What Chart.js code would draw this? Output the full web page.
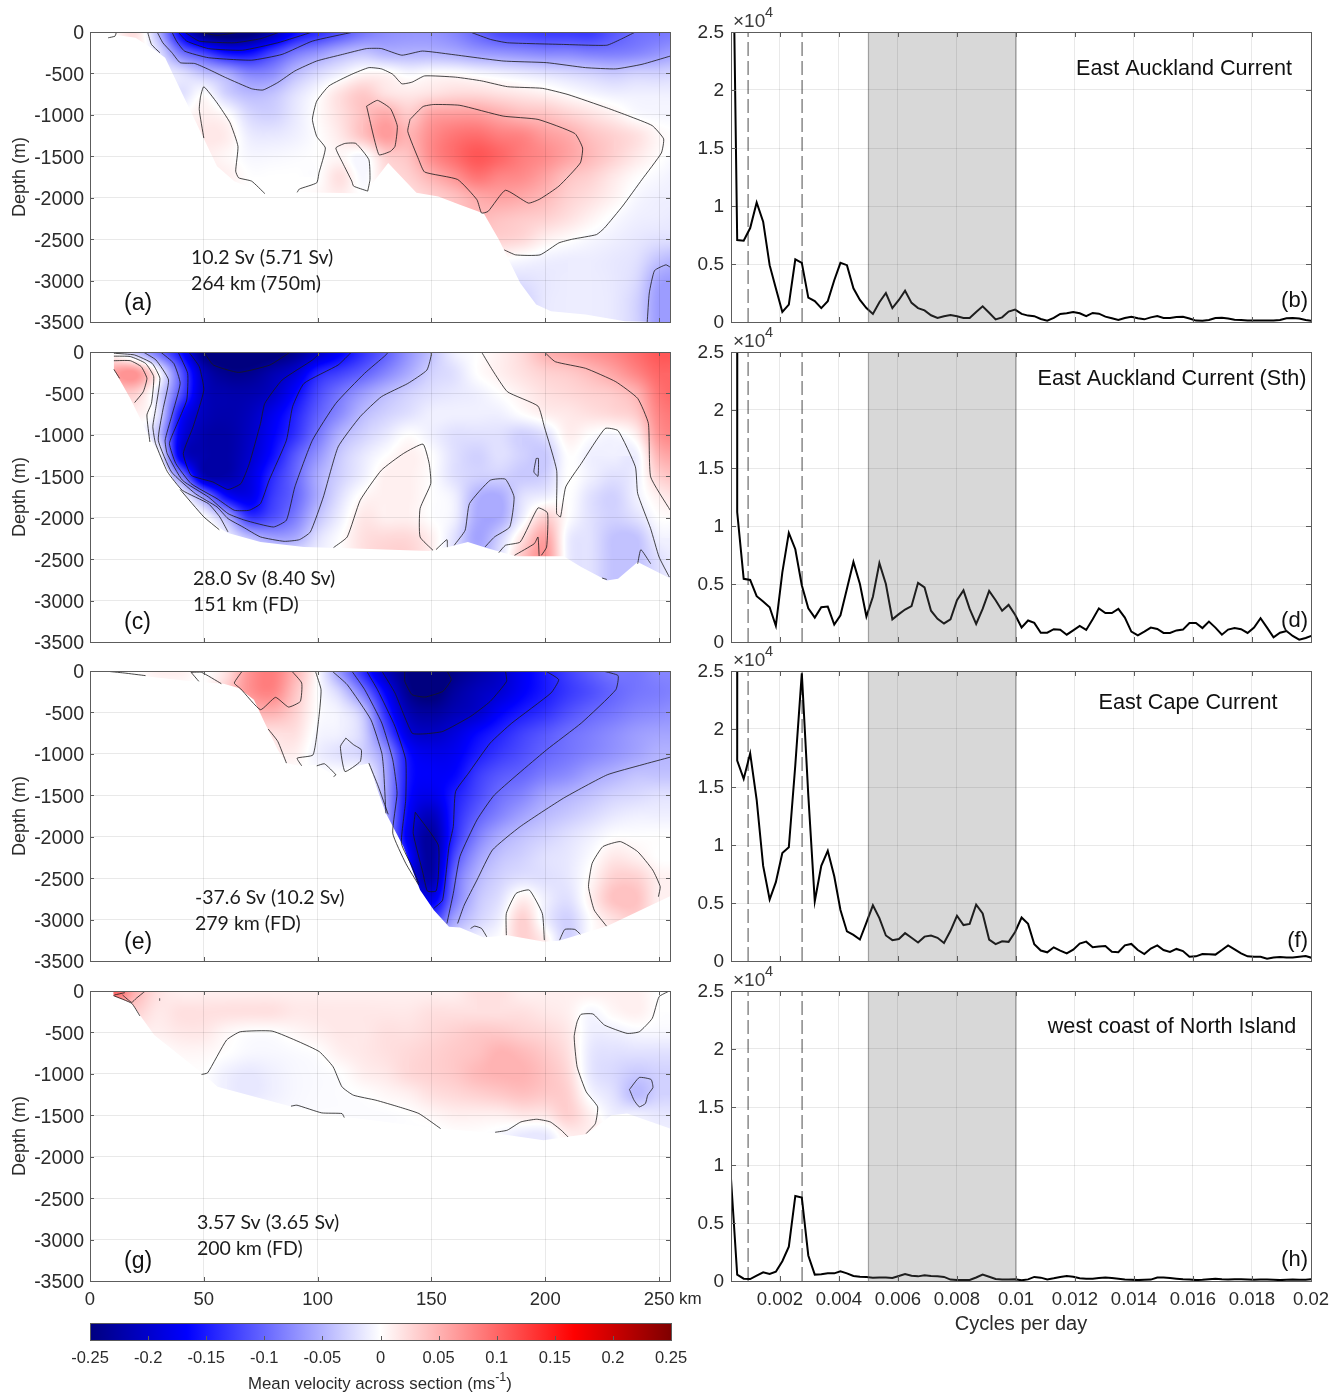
<!DOCTYPE html>
<html><head><meta charset="utf-8">
<script src="https://cdn.jsdelivr.net/npm/chart.js@4"></script>
<style>html,body{margin:0;padding:0;background:#fff;width:1340px;height:1392px;overflow:hidden}canvas{position:absolute}</style>
</head><body>
<script>
// ---------- axis ticks ----------
const depthTicks=[0,-500,-1000,-1500,-2000,-2500,-3000,-3500];
const distTicks=[0,50,100,150,200,250];
const freqTicks=[0.002,0.004,0.006,0.008,0.01,0.012,0.014,0.016,0.018,0.02];
const powerTicks=[0,0.5,1,1.5,2,2.5];
const cbarTicks=[-0.25,-0.2,-0.15,-0.1,-0.05,0,0.05,0.1,0.15,0.2,0.25];
const cmapValues=[-0.25,-0.1667,0,0.1667,0.25];
const cmapColors=[[0,0,127],[0,0,255],[255,255,255],[255,0,0],[127,0,0]];
const fieldX=[0,10,20,30,40,50,60,70,80,90,100,110,120,130,140,150,160,170,180,190,200,210,220,230,240,250,260];
const fieldZ=[0,-250,-500,-750,-1000,-1250,-1500,-1750,-2000,-2250,-2500,-2750,-3000,-3250,-3500];
// ---------- velocity sections, cm/s on the fieldX / fieldZ grid ----------
const fieldA=[
[0,0,2,-5,-17,-25.5,-27,-26,-22,-16.5,-14,-11.5,-9,-7.5,-7,-7,-8,-10,-12,-12.5,-13,-13,-13,-11,-9.5,-9,-8.5],
[0,0,1,-2,-9,-12.5,-16,-16,-12.5,-9,-7,-5,-4,-5,-5,-5,-5.5,-6.5,-7,-7.5,-8,-8,-8.5,-8.5,-8,-7,-6],
[0,0,0,-1,-2,-4,-5.5,-8,-7.5,-4.5,-2.5,-1,0.5,0.5,-0.5,0,0,-0.5,-1,-1.5,-2,-2.5,-3,-3.5,-3,-3,-2.5],
[0,0,0,0,-2,0,-3,-4.5,-4,-2,-0.2,2,3.5,2,1.5,2,2.5,2.5,2,1.5,1,0.2,-0.5,-1,-1,-1,-1],
[0,0,0,0,0,1,0.2,-2.5,-3,-1.5,0.2,2,4,5.5,3.5,6,6.5,6.5,5.5,4.5,4,3,2,1,-0.2,-0.5,-0.5],
[0,0,0,0,0,1.5,1.2,-1.2,-1.5,-1,0,1.5,4,6.5,5,7.5,9,9.5,8.5,8,6.5,5.5,4,3,2,0.5,0],
[0,0,0,0,0,1,0.5,-0.5,-0.5,-0.3,0,0.5,-0.5,3,4,7.5,9.5,11,10,8.5,7.5,6,4.5,3,1.5,0.2,-0.5],
[0,0,0,0,0,1,1,0,0,0,0,2,-0.5,2,3,5,7,9,8,7.5,6,4,3,1.5,0.2,-0.5,-1],
[0,0,0,0,0,0,0,0,0,0,0.5,1,0,1,2,3,4,5.5,6,5.5,4.5,3,2,0.8,-0.5,-1,-1],
[0,0,0,0,0,0,0,0,0,0,0,0,0,0,2,3,4,4.5,4,3.5,3,2,0.8,-0.3,-1,-1.2,-1.5],
[0,0,0,0,0,0,0,0,0,0,0,0,0,0,0,0,2,3,3,2.5,1,0.2,-0.5,-1,-1.5,-2,-2],
[0,0,0,0,0,0,0,0,0,0,0,0,0,0,0,0,0,0,0,-0.5,-1,-1.2,-1.2,-1.5,-2,-4,-5],
[0,0,0,0,0,0,0,0,0,0,0,0,0,0,0,0,0,0,-2,-2,-1.5,-1.2,-1.2,-1.5,-2.5,-6,-6.5],
[0,0,0,0,0,0,0,0,0,0,0,0,0,0,0,0,0,0,-3,-3,-1.5,-1.2,-1.2,-1.5,-3,-6.5,-6.5],
[0,0,0,0,0,0,0,0,0,0,0,0,0,0,0,0,0,0,-3,-3,-1.5,-1.2,-1.2,-1.5,-3,-6.5,-6.5]];
const fieldC=[
[0,0,-4,-9.5,-16,-25,-27,-27,-26,-24,-20.5,-17,-13.5,-10.5,-7,-4,-1,0,1,2.5,5,6,7,8,9.5,11,11],
[3,6,7,0,-11,-21,-24,-24,-22,-19.5,-14.5,-12.5,-10.5,-8,-5.5,-3,-2,0,1,2,3,3.5,4.5,6,8,10,10],
[2,3,3,-2,-11.5,-20.5,-22,-22,-20.5,-16.5,-12,-9,-6.5,-4.5,-3,-2,-1.5,-1,0,1,2,2.5,3,3.5,5,9,10],
[0,0,1,-2,-16,-21,-22,-21,-18,-14.5,-10.5,-7.5,-4.5,-3,-2,-1,-1,-1,-1,0,1,1.5,2,2.5,3.5,8,9],
[0,0,0,-4,-18,-22,-22.5,-20.5,-17,-13.5,-9,-5,-3,-1.5,0,-1,-2,-2,-2,-3,-2,1,0,-0.5,1,7,8],
[0,0,0,0,-18.5,-22,-22.5,-20,-16,-11,-7,-3.5,-1.5,0,1,0,-2,-3,-2,-3,-3.5,0,-1,-1,-1,5,6],
[0,0,0,0,-8,-21,-22,-19,-14,-10,-5.5,-3,-1,1,1,0,-2,-3,-3,-3.5,-3,0,-1,-2,-1,3,4],
[0,0,0,0,0,-7,-16,-18,-13,-10,-5.5,-2,0.5,1,1,0,-1,-5,-5.5,-2,-1,0,-2,-3,-1,1,2],
[0,0,0,0,0,0,-5,-13,-11.5,-8.5,-4,-1,1.5,1,1,0,-1,-5.5,-5.5,-1,3,0,-2,-3,-2,0,0],
[0,0,0,0,0,0,-1,-4,-6,-5.5,-2,0,2,2.5,2.5,1,-2,-6,-3,2,6,-1,-2,-4,-4,-1,-1],
[0,0,0,0,0,0,0,-1,-1,-1,-1,0,2,3,3,1,-2,-5,-2,4,7,-1,-2,-4,-4,-2,-1],
[0,0,0,0,0,0,0,-1,-1,-1,-1,0,2,3,3,1,-2,-5,-2,4,7,-1,-2,-4,-4,-2,-1],
[0,0,0,0,0,0,0,-1,-1,-1,-1,0,2,3,3,1,-2,-5,-2,4,7,-1,-2,-4,-4,-2,-1],
[0,0,0,0,0,0,0,-1,-1,-1,-1,0,2,3,3,1,-2,-5,-2,4,7,-1,-2,-4,-4,-2,-1],
[0,0,0,0,0,0,0,-1,-1,-1,-1,0,2,3,3,1,-2,-5,-2,4,7,-1,-2,-4,-4,-2,-1]];
const fieldE=[
[0,0,0,1,1,0,2,7,8.5,5,0,-7,-14,-21,-25,-27,-24.5,-22.5,-20.5,-17.5,-15,-12.5,-10.5,-9,-9,-8,-8],
[0,0,0,0,0,0,3,7,8,4,0,-3,-9,-17,-24,-26,-23,-21,-19.5,-17,-15,-13,-11.5,-10,-9,-8.5,-8],
[0,0,0,0,0,0,0,4,5,3,0,-1,-4,-14,-21.5,-23,-21.5,-20,-17,-15,-13.5,-11.5,-10,-9,-8,-7.5,-7],
[0,0,0,0,0,0,0,2,2,2,-0.5,-1,-3,-11,-19,-20.5,-19,-16.5,-14.5,-12.5,-11,-9.5,-8.5,-7.5,-6.5,-6,-6],
[0,0,0,0,0,0,0,0,1,1,-1,-2,-3,-7,-16,-18,-17.5,-15,-13,-11.5,-10,-9,-8,-7,-6,-5,-5],
[0,0,0,0,0,0,0,0,0,0,0,0,0,-6,-15.5,-17,-16.5,-13,-11,-10,-8.5,-7.5,-6,-5,-4,-4,-4],
[0,0,0,0,0,0,0,0,0,0,0,0,0,-6,-16,-18,-15,-12,-9.5,-8,-6,-5,-4,-3,-2.5,-2,-2],
[0,0,0,0,0,0,0,0,0,0,0,0,0,-6,-17,-21,-14.5,-10.5,-8,-6,-4.5,-3.5,-2.5,-1.5,-1,-1,-1],
[0,0,0,0,0,0,0,0,0,0,0,0,0,-6,-18,-23,-14,-8.5,-5.5,-4,-3,-2,-1,0,0,0,0],
[0,0,0,0,0,0,0,0,0,0,0,0,0,0,-16,-23,-12,-6.5,-4,-3,-2,-1.5,-0.2,1.5,1,0,0],
[0,0,0,0,0,0,0,0,0,0,0,0,0,0,-16,-22,-10,-5,-3,-2,-2,-1.5,0.5,3,3,1,1],
[0,0,0,0,0,0,0,0,0,0,0,0,0,0,-12,-18,-9,-4,-2,1,-1,-2,1,4,4,1,1],
[0,0,0,0,0,0,0,0,0,0,0,0,0,0,0,-12,-6,-3,-1,3,-1,-3,0,2,3,1,1],
[0,0,0,0,0,0,0,0,0,0,0,0,0,0,0,-5,-3,-1,0,3,1,-3,0,1,2,1,1],
[0,0,0,0,0,0,0,0,0,0,0,0,0,0,0,-5,-3,-1,0,3,1,-3,0,1,2,1,1]];
const fieldG=[
[0,10,5,2,1,1,1,1,1,1,1,1,1,1,1,1,1,2,2,1,1,1,1,1,1,0,0],
[0,3,3,1.5,2,2,2,2,2,1.5,1.5,1.5,1.5,1.5,1.5,2,2,2,2,2,1.5,1,-0.5,0.5,1,0,0],
[0,0,1,1,1.5,1.5,0.5,0,0,0.5,1,1.5,1.5,2,2,2.5,3,3.5,3.5,3,2.5,1.5,-1,-1,-0.5,-0.5,-0.5],
[0,0,0,0,0.5,0.5,0,-0.5,-0.5,-0.3,0,1,1.5,2,2.5,3,3.5,4,5,4.5,3.5,2,-1.5,-2,-2,-2,-2],
[0,0,0,0,0,0,-1,-1.5,-1,-0.5,-0.3,0,1,1.5,2.5,3,3.5,4.5,5,5,4,2.5,-1.5,-2.5,-3.5,-3,-3],
[0,0,0,0,0,0,-1,-1.5,-1,-0.5,-0.3,-0.2,0,0.5,1,2,2.5,3,3.5,4,3.5,3,-0.5,-2,-4.5,-3,-3],
[0,0,0,0,0,0,0,0,-0.3,-0.3,-0.2,-0.2,-0.2,-0.2,0,0.5,1,1,1,1.5,1.5,3,1,-1,-1,-1.5,-1.5],
[0,0,0,0,0,0,0,0,0,0,0,0,0,0,0,-0.3,0,0,-0.5,-1.5,-1.5,1,1,0,-1,-1,-1],
[0,0,0,0,0,0,0,0,0,0,0,0,0,0,0,-0.3,0,0,-0.5,-1.5,-1.5,1,1,0,-1,-1,-1],
[0,0,0,0,0,0,0,0,0,0,0,0,0,0,0,-0.3,0,0,-0.5,-1.5,-1.5,1,1,0,-1,-1,-1],
[0,0,0,0,0,0,0,0,0,0,0,0,0,0,0,-0.3,0,0,-0.5,-1.5,-1.5,1,1,0,-1,-1,-1],
[0,0,0,0,0,0,0,0,0,0,0,0,0,0,0,-0.3,0,0,-0.5,-1.5,-1.5,1,1,0,-1,-1,-1],
[0,0,0,0,0,0,0,0,0,0,0,0,0,0,0,-0.3,0,0,-0.5,-1.5,-1.5,1,1,0,-1,-1,-1],
[0,0,0,0,0,0,0,0,0,0,0,0,0,0,0,-0.3,0,0,-0.5,-1.5,-1.5,1,1,0,-1,-1,-1],
[0,0,0,0,0,0,0,0,0,0,0,0,0,0,0,-0.3,0,0,-0.5,-1.5,-1.5,1,1,0,-1,-1,-1]];
// ---------- sea-floor outlines: distance, depth, distance, depth ... ----------
const bedA=[5,0,10,-30,20,-70,29,-230,33,-310,48,-1175,55.8,-1620,63.4,-1800,76.8,-1950,94,-1935,120.6,-1950,131,-1580,143.4,-1940,153,-1985,162.5,-2085,173,-2190,179.6,-2505,189,-3030,196,-3290,202.5,-3370,217.7,-3410,235,-3490,260,-3510];
const bedC=[10.5,0,10.5,-210,17.7,-560,25.3,-983,36.8,-1547,50,-2010,60.6,-2184,74.9,-2293,94,-2354,113,-2370,149,-2402,158.7,-2345,166,-2293,173.9,-2362,187,-2466,208,-2466,215.8,-2595,227,-2757,232,-2736,240.6,-2535,254.5,-2728,260,-2800];
const bedE=[0,0,25.3,-65,44.3,-125,58.7,-153,65.3,-205,72,-346,76.8,-628,82.5,-950,86.3,-1112,92,-1145,99.6,-1133,108,-1274,113,-1213,117.7,-1145,122.5,-1112,126.3,-1435,130,-1717,137.7,-2120,145,-2644,151,-2885,157.7,-3087,162.5,-3095,173,-3216,183.4,-3188,199.6,-3268,206,-3256,227,-3080,254.9,-2716,260,-2680];
const bedG=[10.3,0,10.3,-56,18.3,-149,21.9,-290,28.2,-532,50,-1008,56,-1157,87.9,-1390,111.7,-1519,152.5,-1660,177.3,-1713,199.2,-1801,209,-1761,218,-1729,229,-1499,236,-1479,254.9,-1660,260,-1680];
// ---------- contour lines: distance, depth, distance, depth ... ----------
const contoursA=[
[29.5,0,32,-130,36,-250,39.6,-370,46,-380,52,-450,59.6,-550,71,-685,76,-700,82.5,-610,90,-470,99.6,-350,111,-270,121.5,-200,128,-200,137,-280,146,-230,158.7,-270,181.5,-350,200.6,-370,217.7,-430,231,-445,242.5,-390,255,-290],
[36,0,38,-110,41.5,-230,52,-310,71,-340,84.4,-270,97.7,-110,115.8,0],
[38.7,0,42.5,-110,52,-200,67,-220,82.5,-130,97.7,0],
[41.5,0,48,-110,63.4,-130,75,-80,83.4,0],
[48,0,55.8,-40,66.3,0],
[167,0,176,-90,183.4,-130,208,-150,227,-160,233,-90,239.6,0],
[25.3,0,27,-150,30.7,-250],
[11.6,0,11,-50,8,-70],
[182,-2630,187,-2690,197.7,-2690,206,-2545,212,-2500,222.5,-2445,226,-2365,234,-2100,242.5,-1780,251,-1460,252,-1290,247,-1130,236.8,-1015,227,-915,210,-755,198.7,-680,183.4,-660,172,-590,160.6,-545,147,-530,141.5,-605,137,-625,133,-510,128,-445,122.5,-430,115,-510,105,-650,99.6,-835,97.7,-1055,99.6,-1260,103.4,-1400,100.6,-1700,99.6,-1820,92,-1895,91,-1935],
[122,-1920,123,-1780,122.5,-1540,116.8,-1345,112,-1345,108,-1400,111,-1580,115,-1800,115.8,-1860,122,-1920],
[121.5,-895,126.3,-825,132,-925,135,-1135,134,-1380,132,-1440,126.9,-1480,121.5,-895],
[140.6,-1055,146.3,-900,151,-875,162.5,-885,181.5,-1015,196.8,-1055,213,-1225,216.4,-1400,215.4,-1580,206,-1860,197.7,-2015,192.6,-2065,182.5,-1910,174.9,-2165,172,-2185,170,-2025,161.5,-1780,147,-1690,144.4,-1540,139.6,-1200,140.6,-1055],
[50,-1280,48,-935,48.6,-775,50,-660,55.8,-855,61.5,-1095,65,-1380,64,-1680,65.3,-1760,71,-1800,76.8,-1950],
[244.8,-3500,245.7,-3150,248,-2880,253,-2810,255,-2840]];
const contoursC=[
[19.6,-610,23.4,-480,25,-318,22.5,-177,17.7,-105,10.5,-105],
[10.5,-210,13,-318],
[10.5,-50,17.7,-55,24.4,-137,28,-298,27,-620,25,-760,26.3,-1085],
[10.5,-15,19.6,-36,27.3,-137,30.7,-318,29,-660,27.6,-900,28.8,-1105,34,-1445,40.6,-1670,52,-1830,57,-1990,60.6,-2170],
[39.6,-1660,50,-1990,56.8,-2145],
[23.4,0,29,-97,34.5,-338,32,-701,30,-1065,35.8,-1447,46.3,-1710,55.8,-1870,60.6,-2010,67.2,-2112,74.9,-2232,85.3,-2285,92,-2265,96.8,-2172,102.5,-1750,109,-1145,118.7,-780,128,-540,139.6,-380,148,-218,150,-15,148,0],
[31,0,36.8,-137,39.6,-379,35.8,-782,33,-1065,33.9,-1225,40.6,-1548,52,-1750,60.6,-1950,68,-2030,80.6,-2112,86.3,-2030,90,-1628,97.7,-1065,108,-620,120.6,-258,130,-36,131,0],
[38.7,0,42.9,-258,42.5,-580,37.7,-903,34.9,-1105,37.7,-1346,44.4,-1588,55.8,-1770,63.4,-1910,70,-1910,74.9,-1830,78.7,-1548,86.3,-1065,89,-660,94,-379,109,-157,114.9,0],
[43.4,0,48,-177,50,-460,45.3,-903,41,-1225,44.4,-1487,53.9,-1568,60.6,-1660,66.3,-1588,70,-1346,74.9,-862,76.8,-620,84.4,-338,97.7,-97,101.5,0],
[50,0,54.2,-157,65.3,-246,79,-157,88,0],
[107,-2360,113,-2232,118.7,-1790,128,-1427,137.7,-1225,146.3,-1112,149,-1346,149.7,-1588,145,-1890,145,-2232,150.7,-2394],
[152,-2385,156.8,-2265,157,-2355],
[160,-2333,164.8,-2152,166.7,-1830,175.8,-1548,182.5,-1535,186.3,-1750,184.4,-2112,177.7,-2232,173.5,-2354],
[196,-1285,197,-1285,196.8,-1500,195,-1447,196,-1285],
[179.6,-2422,182.5,-2333,189,-2293,196.8,-1882,201,-1942,200.6,-2354,198.3,-2454],
[186.5,-2454,195.2,-2313,196.8,-2233,197.3,-2462],
[172,0,176.8,-218,183.4,-480,196.8,-653,199.6,-903,205,-1427,205,-1950,206.7,-1990,209,-1628,215.8,-1346,226.3,-923,232,-950,239.6,-1386,240.6,-1708,246.3,-2132,250,-2474,254.5,-2716],
[199.6,0,204.4,-117,217.7,-197,231,-359,240.6,-560,245.3,-862,246.3,-1507,254.9,-1910],
[240.6,-2555,242,-2386,246.3,-2555],
[225,-2728,227,-2745]];
const contoursE=[
[6.3,0,15,-24,24.4,-56],
[44.4,-16,49,-16,57.7,-153],
[44.4,-16,47.8,-125],
[66.9,0,63.4,-145,66.3,-218,74.9,-467,81.5,-318,87.2,-435,92.4,-367,93,-145,88.6,0],
[99,0,101.5,-226,100.6,-548,98,-1012,91,-1052,93,-1145],
[78.3,-701,82.5,-850,86.3,-1112],
[99.6,-1145,103,-1120,108,-1253,107,-1274],
[112.4,-810,110,-911,112,-1213,118.7,-1092,119.2,-951,115.8,-890,112.4,-810],
[106.3,0,113,-165,123.4,-588,128.2,-991,129,-1193,130,-1717],
[122.5,-1112,126.6,-1390,131,-1730],
[115,0,120.7,-226,128.2,-629,133,-1072,134.9,-1475,133,-1958,138.7,-2321,144.4,-2583],
[121.5,0,126.3,-226,134,-669,138.7,-1072,138.7,-1556,136.8,-2080,141.5,-2362,144.4,-2563],
[128.2,0,134,-266,141.5,-750,147.2,-758,155,-729,167.2,-548,175.8,-367,183,-125,182.5,0],
[142.9,-1705,142,-1958,146.3,-2442,148.2,-2656,152,-2656,153,-2483,153,-2100,142.9,-1705],
[138.3,0,138.3,-125,141.5,-286,147.2,-314,155,-246,158.7,-105,156.8,0],
[200.2,0,205.9,-105,202.5,-266,185.3,-629,175.8,-870,166.3,-1233,160.6,-1455,159.6,-1878,157.7,-2120,154.9,-2765,151,-2865],
[225.3,0,232,-56,231,-226,215.8,-629,200.6,-951,177.7,-1495,170,-1797,162.5,-2240,159.6,-2684,156.8,-3047],
[254.9,-1040,242.5,-1132,227.2,-1253,208,-1535,189,-1878,176.8,-2160,170,-2523,164.4,-2825,161.5,-3047],
[226.9,-3079,221.5,-2885,219,-2603,220.6,-2321,225.3,-2120,233,-2059,240.6,-2180,247.2,-2402,250.5,-2603,249.7,-2724],
[182.9,-3188,182.9,-2926,187.2,-2684,193,-2644,198.7,-2926,199.6,-3248],
[167.2,-3107,169,-3079,172,-3107,174.3,-3208],
[206.3,-3248,208.6,-3119,213,-3119,215.4,-3176]];
const contoursG=[
[49,-1008,51.7,-987,60,-592,66,-492,80,-484,91.8,-613,100.8,-733,106.8,-915,110.7,-1157,115.7,-1257,125.6,-1318,135.6,-1398,144.5,-1479,154,-1660],
[88.3,-1390,90.9,-1378,101.8,-1471,110.7,-1479,111.7,-1527],
[178,-1705,183.3,-1680,189.3,-1580,196.2,-1548,202.2,-1580,207,-1680,210,-1761],
[218,-1720,222,-1600,223,-1398,218,-1217,214,-915,212.7,-552,214,-371,215.7,-282,221,-278,226,-411,236,-512,241.3,-492,247,-330,250,-69,254.5,0],
[237,-1189,241.3,-1044,246.5,-1068,247.3,-1165,245,-1257,244,-1358,241.3,-1398,239,-1318,237,-1189],
[14.3,-48,18.3,-137,20.3,-89,24.3,0],
[10.7,-48,15.3,-20],
[30.6,-89,30.6,-117],
[10.3,-56,18.3,-149,21.9,-300]];
// ---------- spectra ----------
const spectrumFreq=[.00055,.00077,.00099,.00121,.00143,.00165,.00186,.00208,.00230,.00252,.00274,.00296,.00318,.00340,.00362,.00384,.00405,.00427,.00449,.00471,.00493,.00515,.00537,.00559,.00581,.00603,.00624,.00646,.00668,.00690,.00712,.00734,.00756,.00778,.00800,.00822,.00843,.00865,.00887,.00909,.00931,.00953,.00975,.00997,.01019,.01041,.01062,.01084,.01106,.01128,.01150,.01172,.01194,.01216,.01238,.01260,.01281,.01303,.01325,.01347,.01369,.01391,.01413,.01435,.01457,.01479,.01500,.01522,.01544,.01566,.01588,.01610,.01632,.01654,.01676,.01698,.01719,.01741,.01763,.01785,.01807,.01829,.01851,.01873,.01895,.01917,.01938,.01960,.01982,.02004];
const seriesB=[.706,.70,.81,1.03,.865,.49,.29,.087,.15,.54,.51,.21,.18,.12,.18,.36,.51,.49,.29,.19,.12,.07,.17,.25,.12,.19,.27,.165,.12,.10,.058,.035,.05,.06,.05,.035,.035,.087,.135,.08,.023,.04,.09,.107,.07,.055,.05,.026,.012,.035,.07,.075,.087,.075,.05,.078,.072,.046,.032,.017,.035,.046,.032,.023,.04,.052,.035,.035,.043,.046,.03,.012,.01,.017,.035,.037,.03,.02,.017,.012,.012,.012,.012,.012,.017,.032,.035,.03,.017,.01];
const seriesD=[1.12,.545,.535,.395,.35,.30,.14,.60,.94,.80,.49,.29,.21,.30,.305,.15,.23,.46,.69,.50,.22,.39,.68,.50,.195,.24,.28,.31,.51,.47,.27,.20,.16,.195,.36,.445,.285,.155,.285,.44,.36,.27,.32,.235,.125,.185,.165,.08,.08,.11,.105,.063,.10,.138,.104,.196,.29,.25,.25,.285,.21,.09,.058,.09,.124,.112,.078,.078,.10,.107,.164,.164,.12,.176,.124,.063,.107,.12,.11,.078,.124,.205,.124,.04,.08,.095,.052,.02,.035,.055];
const seriesF=[1.727,1.57,1.79,1.39,.82,.53,.68,.93,.98,1.69,2.48,1.43,.515,.82,.95,.73,.44,.255,.225,.185,.33,.48,.37,.22,.18,.19,.24,.20,.16,.21,.22,.20,.155,.26,.39,.31,.32,.485,.41,.185,.145,.17,.165,.25,.375,.32,.145,.09,.075,.118,.09,.065,.098,.15,.167,.118,.124,.13,.08,.075,.135,.147,.095,.06,.107,.135,.095,.078,.104,.086,.037,.04,.06,.058,.055,.095,.135,.10,.066,.04,.037,.037,.02,.03,.035,.03,.03,.037,.043,.026];
const seriesH=[.055,.02,.017,.046,.075,.06,.08,.17,.296,.733,.72,.22,.055,.058,.066,.066,.083,.066,.043,.037,.035,.029,.03,.03,.026,.043,.06,.046,.04,.05,.043,.04,.035,.012,.009,.009,.009,.03,.055,.037,.017,.012,.012,.014,.006,.014,.035,.029,.014,.023,.035,.043,.037,.023,.02,.02,.025,.03,.025,.02,.013,.01,.008,.01,.012,.03,.03,.025,.02,.015,.012,.008,.01,.015,.02,.015,.012,.015,.015,.012,.01,.012,.012,.01,.008,.01,.012,.01,.01,.015];
const leadB=[.00033,4.8], leadD=[.00056,6], leadF=[.00056,6], leadH=[.00033,.92];
const periodLines=[0.00092,0.00275];
const bandFreq=[0.005,0.01];
// ---------- text ----------
const sectionPanels=[
 {top:32,field:fieldA,bed:bedA,contours:contoursA,tag:'(a)',notes:['10.2 Sv (5.71 Sv)','264 km (750m)'],nx:191,ny:226,ty:272},
 {top:352,field:fieldC,bed:bedC,contours:contoursC,tag:'(c)',notes:['28.0 Sv (8.40 Sv)','151 km (FD)'],nx:193,ny:227,ty:271},
 {top:671,field:fieldE,bed:bedE,contours:contoursE,tag:'(e)',notes:['-37.6 Sv (10.2 Sv)','279 km (FD)'],nx:195,ny:227,ty:272},
 {top:991,field:fieldG,bed:bedG,contours:contoursG,tag:'(g)',notes:['3.57 Sv (3.65 Sv)','200 km (FD)'],nx:197,ny:232,ty:271,last:true}];
const spectrumPanels=[
 {top:32,series:seriesB,lead:leadB,title:'East Auckland Current',tx:1184,ty:37,tag:'(b)',gy:269},
 {top:352,series:seriesD,lead:leadD,title:'East Auckland Current (Sth)',tx:1172,ty:27,tag:'(d)',gy:269},
 {top:671,series:seriesF,lead:leadF,title:'East Cape Current',tx:1188,ty:32,tag:'(f)',gy:270},
 {top:991,series:seriesH,lead:leadH,title:'west coast of North Island',tx:1172,ty:36,tag:'(h)',gy:269,last:true}];

const SANS='"Liberation Sans",Arial,sans-serif', INK='#2b2b2b', FRAME='#5c5c5c', GRID='rgba(0,0,0,0.085)';
Chart.defaults.font.family=SANS;

function pairs(flat){const o=[];for(let i=0;i<flat.length;i+=2)o.push({x:flat[i],y:flat[i+1]});return o;}
function cmap(v){
  const c=Math.max(cmapValues[0],Math.min(cmapValues[4],v));let i=0;
  while(i<3&&c>cmapValues[i+1])i++;
  const t=(c-cmapValues[i])/(cmapValues[i+1]-cmapValues[i]),a=cmapColors[i],b=cmapColors[i+1];
  return [a[0]+(b[0]-a[0])*t,a[1]+(b[1]-a[1])*t,a[2]+(b[2]-a[2])*t];
}
function cr(t){const t2=t*t,t3=t2*t;return [-.5*t+t2-.5*t3,1-2.5*t2+1.5*t3,.5*t+2*t2-1.5*t3,-.5*t2+.5*t3];}
function sample(F,u,v){
  const R=F.length,C=F[0].length,i=Math.min(C-2,Math.max(0,Math.floor(u))),j=Math.min(R-2,Math.max(0,Math.floor(v)));
  const wx=cr(u-i),wy=cr(v-j);let s=0;
  for(let b=0;b<4;b++){const row=F[Math.min(R-1,Math.max(0,j-1+b))];
    for(let a=0;a<4;a++)s+=wy[b]*wx[a]*row[Math.min(C-1,Math.max(0,i-1+a))];}
  const q=[F[j][i],F[j][i+1],F[j+1][i],F[j+1][i+1]];
  return Math.max(Math.min(...q),Math.min(Math.max(...q),s));
}
function frame(chart,len){
  const c=chart.ctx,a=chart.chartArea,x=chart.scales.x,y=chart.scales.y;
  c.save();c.strokeStyle=FRAME;c.lineWidth=1;
  c.strokeRect(Math.round(a.left)+.5,Math.round(a.top)+.5,Math.round(a.width),Math.round(a.height));
  c.beginPath();
  x.ticks.forEach(t=>{const p=Math.round(x.getPixelForValue(t.value))+.5;c.moveTo(p,a.bottom);c.lineTo(p,a.bottom-len);c.moveTo(p,a.top);c.lineTo(p,a.top+len);});
  y.ticks.forEach(t=>{const p=Math.round(y.getPixelForValue(t.value))+.5;c.moveTo(a.left,p);c.lineTo(a.left+len,p);c.moveTo(a.right,p);c.lineTo(a.right-len,p);});
  c.stroke();c.restore();
}
function text(c,s,x,y,font,align,color){c.font=font;c.textAlign=align||'left';c.textBaseline='middle';c.fillStyle=color||INK;c.fillText(s,x,y);}
function addCanvas(l,t,w,h){const e=document.createElement('canvas');e.width=w;e.height=h;e.style.left=l+'px';e.style.top=t+'px';e.style.width=w+'px';e.style.height=h+'px';document.body.appendChild(e);return e;}

sectionPanels.forEach(p=>{
  const MT=30,H=MT+290+30;
  const el=addCanvas(0,p.top-MT,710,H);
  new Chart(el,{type:'scatter',
    data:{datasets:p.contours.map(f=>({data:pairs(f),showLine:true,borderColor:'rgba(25,25,25,0.8)',borderWidth:1,pointRadius:0,tension:0.15,fill:false}))},
    options:{responsive:false,animation:false,events:[],
      layout:{autoPadding:false,padding:{left:0,right:40,top:MT,bottom:0}},
      plugins:{legend:{display:false},tooltip:{enabled:false}},
      scales:{
        x:{type:'linear',min:0,max:254.8,afterBuildTicks:s=>{s.ticks=distTicks.map(v=>({value:v}));},afterFit:s=>{s.height=30;},
           grid:{color:GRID,drawTicks:false,z:1},border:{display:false},
           ticks:{display:!!p.last,autoSkip:false,maxRotation:0,padding:8,color:INK,font:{size:18.5}}},
        y:{type:'linear',min:-3500,max:0,afterBuildTicks:s=>{s.ticks=depthTicks.map(v=>({value:v}));},afterFit:s=>{s.width=90;},
           grid:{color:GRID,drawTicks:false,z:1},border:{display:false},
           ticks:{autoSkip:false,padding:6,labelOffset:2,color:INK,font:{size:19.5},callback:v=>String(v)}}
      }},
    plugins:[{id:'section',
      beforeDatasetsDraw(chart){
        const c=chart.ctx,a=chart.chartArea,x=chart.scales.x,y=chart.scales.y;
        const L=Math.floor(a.left),T=Math.floor(a.top),W=Math.ceil(a.width),Hh=Math.ceil(a.height);
        const off=document.createElement('canvas');off.width=W;off.height=Hh;
        const o=off.getContext('2d'),im=o.createImageData(W,Hh);
        const dx=fieldX[1]-fieldX[0],dz=fieldZ[0]-fieldZ[1];
        for(let py=0;py<Hh;py++){const v=-y.getValueForPixel(T+py+.5)/dz;
          for(let px=0;px<W;px++){const u=x.getValueForPixel(L+px+.5)/dx;
            const col=cmap(sample(p.field,u,v)/100),k=4*(py*W+px);
            im.data[k]=col[0];im.data[k+1]=col[1];im.data[k+2]=col[2];im.data[k+3]=255;}}
        o.putImageData(im,0,0);
        c.save();c.beginPath();c.rect(a.left,a.top,a.width,a.height);c.clip();
        c.beginPath();c.moveTo(x.getPixelForValue(p.bed[0]),y.getPixelForValue(0));
        pairs(p.bed).forEach(q=>c.lineTo(x.getPixelForValue(q.x),y.getPixelForValue(q.y)));
        c.lineTo(x.getPixelForValue(260),y.getPixelForValue(0));c.closePath();c.clip();
        c.drawImage(off,L,T);c.restore();
      },
      afterDraw(chart){
        frame(chart,4);
        const c=chart.ctx;c.save();
        p.notes.forEach((s,i)=>text(c,s,p.nx,MT+p.ny+i*26,'19.5px Lato','left','#1c1c1c'));
        text(c,p.tag,124,MT+p.ty,'23px '+SANS,'left','#111');
        c.translate(20,MT+145);c.rotate(-Math.PI/2);text(c,'Depth (m)',0,0,'18px '+SANS,'center');c.setTransform(1,0,0,1,0,0);
        if(p.last)text(c,'km',679,MT+308,'17px '+SANS);
        c.restore();
      }}]
  });
});

spectrumPanels.forEach(p=>{
  const MT=30,H=MT+290+60,LEFT=690;
  const el=addCanvas(LEFT,p.top-MT,650,H);
  const line=[{x:p.lead[0],y:p.lead[1]}].concat(p.series.map((v,i)=>({x:spectrumFreq[i],y:v})));
  const ds=[
    {data:[{x:bandFreq[0],y:0},{x:bandFreq[0],y:2.5},{x:bandFreq[1],y:2.5},{x:bandFreq[1],y:0}],showLine:true,fill:'origin',backgroundColor:'rgba(110,110,110,0.27)',borderColor:'rgba(90,90,90,0.55)',borderWidth:1.2,pointRadius:0,order:-1},
    {data:line,showLine:true,borderColor:'#000',borderWidth:2,pointRadius:0,fill:false,order:1}
  ];
  periodLines.forEach(f=>ds.push({data:[{x:f,y:0},{x:f,y:2.5}],showLine:true,borderColor:'#808080',borderWidth:1.4,borderDash:[14,5],pointRadius:0,fill:false,order:2}));
  new Chart(el,{type:'scatter',data:{datasets:ds},
    options:{responsive:false,animation:false,events:[],
      layout:{autoPadding:false,padding:{left:0,right:29,top:MT,bottom:0}},
      plugins:{legend:{display:false},tooltip:{enabled:false}},
      scales:{
        x:{type:'linear',min:0.00034,max:0.02,afterBuildTicks:s=>{s.ticks=freqTicks.map(v=>({value:v}));},afterFit:s=>{s.height=60;},
           grid:{color:GRID,drawTicks:false,z:1},border:{display:false},
           ticks:{display:!!p.last,autoSkip:false,maxRotation:0,padding:8,color:INK,font:{size:18.5},callback:v=>String(+v.toFixed(3))}},
        y:{type:'linear',min:0,max:2.5,afterBuildTicks:s=>{s.ticks=powerTicks.map(v=>({value:v}));},afterFit:s=>{s.width=41;},
           grid:{color:GRID,drawTicks:false,z:1},border:{display:false},
           ticks:{autoSkip:false,padding:7,labelOffset:1,color:INK,font:{size:19},callback:v=>String(v)}}
      }},
    plugins:[{id:'spec',afterDraw(chart){
      frame(chart,5);
      const c=chart.ctx;c.save();
      text(c,'×10',733-LEFT,MT-10,'19px '+SANS,'left','#3a3a3a');
      text(c,'4',765-LEFT,MT-19,'14.5px '+SANS,'left','#3a3a3a');
      text(c,p.title,p.tx-LEFT,MT+p.ty,'21.6px '+SANS,'center','#111');
      text(c,p.tag,1308-LEFT,MT+p.gy,'22px '+SANS,'right','#111');
      if(p.last)text(c,'Cycles per day',1021-LEFT,MT+333,'20px '+SANS,'center');
      c.restore();
    }}]
  });
});

(function(){
  const el=addCanvas(0,1313,710,79);
  new Chart(el,{type:'scatter',data:{datasets:[{data:[],pointRadius:0}]},
    options:{responsive:false,animation:false,events:[],
      layout:{autoPadding:false,padding:{left:90,right:39,top:10,bottom:0}},
      plugins:{legend:{display:false},tooltip:{enabled:false}},
      scales:{
        x:{type:'linear',min:-0.25,max:0.25,afterBuildTicks:s=>{s.ticks=cbarTicks.map(v=>({value:v}));},afterFit:s=>{s.height=52;},
           grid:{display:false},border:{display:false},
           ticks:{autoSkip:false,maxRotation:0,padding:1,color:INK,font:{size:16.5},callback:v=>String(+v.toFixed(2))}},
        y:{display:false,min:0,max:1}
      }},
    plugins:[{id:'cbar',beforeDatasetsDraw(chart){
      const c=chart.ctx,a=chart.chartArea,x=chart.scales.x;
      const g=c.createLinearGradient(x.getPixelForValue(-0.25),0,x.getPixelForValue(0.25),0);
      cmapValues.forEach((v,i)=>g.addColorStop((v+0.25)/0.5,'rgb('+cmapColors[i].join(',')+')'));
      c.fillStyle=g;c.fillRect(a.left,a.top,a.width,a.height);
    },afterDraw(chart){
      const c=chart.ctx,a=chart.chartArea,x=chart.scales.x;
      c.save();c.strokeStyle=FRAME;c.lineWidth=1;c.strokeRect(Math.round(a.left)+.5,Math.round(a.top)+.5,Math.round(a.width),Math.round(a.height));
      c.beginPath();x.ticks.forEach(t=>{const p=Math.round(x.getPixelForValue(t.value))+.5;c.moveTo(p,a.bottom);c.lineTo(p,a.bottom-4);});c.stroke();
      const y0=71,f='16.8px '+SANS;let px=248;
      text(c,'Mean velocity across section (ms',px,y0,f);px+=c.measureText('Mean velocity across section (ms').width;
      text(c,'-1',px,y0-6,'12.5px '+SANS);px+=c.measureText('-1').width;
      text(c,')',px,y0,f);
      c.restore();
    }}]
  });
})();
</script>
</body></html>
